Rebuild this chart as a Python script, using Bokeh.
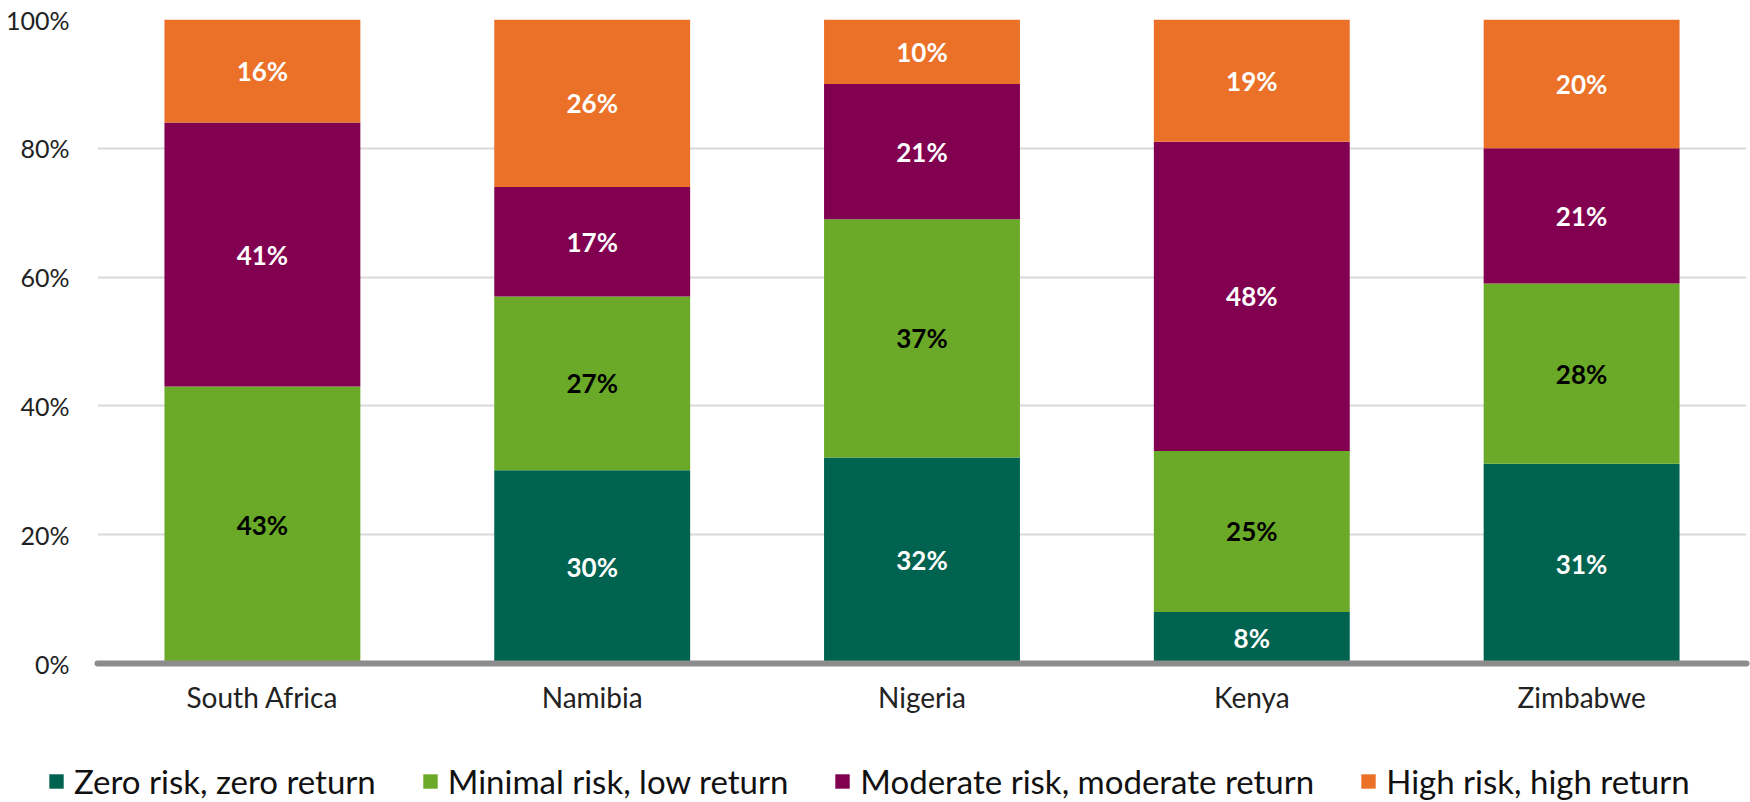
from bokeh.plotting import figure
from bokeh.layouts import column, row
from bokeh.models import ColumnDataSource, FactorRange, Legend, LegendItem, FixedTicker, PrintfTickFormatter
from bokeh.core.properties import value
from bokeh.embed import file_html
from bokeh.resources import INLINE

countries = ["South Africa", "Namibia", "Nigeria", "Kenya", "Zimbabwe"]
series_names = ["Zero risk, zero return", "Minimal risk, low return",
                "Moderate risk, moderate return", "High risk, high return"]
zero_risk = [0, 30, 32, 8, 31]
minimal_risk = [43, 27, 37, 25, 28]
moderate_risk = [41, 17, 21, 48, 21]
high_risk = [16, 26, 10, 19, 20]
y_ticks = [0, 20, 40, 60, 80, 100]

colors = ["#006350", "#6AAA28", "#820050", "#EB7128"]
label_colors = ["white", "black", "white", "white"]
keys = ["zero", "minimal", "moderate", "high"]
series = [zero_risk, minimal_risk, moderate_risk, high_risk]

FONT = "Lato"

data = {"country": countries}
for k, s in zip(keys, series):
    data[k] = s
source = ColumnDataSource(data)

p = figure(x_range=FactorRange(*countries), y_range=(0, 100),
           frame_width=1649, frame_height=644,
           output_backend="svg", toolbar_location=None,
           min_border_left=97, min_border_right=4, min_border_top=19, min_border_bottom=72)
p.outline_line_color = None
p.background_fill_color = "white"
p.border_fill_color = "white"

renderers = p.vbar_stack(keys, x="country", width=0.594, source=source,
                         color=colors, line_color=None)

# segment labels
lx, ly, lt, lc = [], [], [], []
for i, c in enumerate(countries):
    base = 0
    for s, col in zip(series, label_colors):
        v = s[i]
        if v > 0:
            lx.append(c)
            ly.append(base + v / 2)
            lt.append(f"{v}%")
            lc.append(col)
        base += v
lsrc = ColumnDataSource(dict(x=lx, y=ly, text=lt, color=lc))
p.text(x="x", y="y", text="text", source=lsrc, text_color="color",
       text_align="center", text_baseline="middle",
       text_font=value(FONT), text_font_style="bold", text_font_size="26px")

# axes
p.yaxis.ticker = FixedTicker(ticks=y_ticks)
p.yaxis.formatter = PrintfTickFormatter(format="%d%%")
p.yaxis.axis_line_color = None
p.yaxis.major_tick_line_color = None
p.yaxis.minor_tick_line_color = None
p.yaxis.major_label_standoff = 22
p.yaxis.major_label_text_font = FONT
p.yaxis.major_label_text_font_size = "25px"
p.yaxis.major_label_text_color = "#222222"

p.xaxis.axis_line_color = "#8C8C8C"
p.xaxis.axis_line_width = 6
p.xaxis.axis_line_cap = "round"
p.xaxis.major_tick_line_color = None
p.xaxis.minor_tick_line_color = None
p.xaxis.major_label_standoff = 10
p.xaxis.major_label_text_font = FONT
p.xaxis.major_label_text_font_size = "28px"
p.xaxis.major_label_text_color = "#222222"

p.xgrid.grid_line_color = None
p.ygrid.grid_line_color = "#D9D9D9"
p.ygrid.grid_line_width = 2

# legend strip below the chart (its bars fall outside its view; only the legend shows)
pl = figure(width=1750, height=67, x_range=FactorRange(*countries), y_range=(1000, 1001),
            output_backend="svg", toolbar_location=None,
            min_border_left=0, min_border_right=0, min_border_top=0, min_border_bottom=0)
pl.outline_line_color = None
pl.axis.visible = False
pl.grid.grid_line_color = None
legend_renderers = pl.vbar_stack(keys, x="country", width=0.594, source=source,
                                 color=colors, line_color=None)
items = [LegendItem(label=n, renderers=[r]) for n, r in zip(series_names, legend_renderers)]
legend = Legend(items=items, orientation="horizontal", location=(47, 1),
                label_text_font=FONT, label_text_font_size="33px",
                label_text_color="#111111",
                glyph_width=18, glyph_height=18, label_standoff=9, spacing=45,
                border_line_color=None, background_fill_alpha=0,
                margin=0, padding=0)
pl.add_layout(legend, "center")

layout = column(p, row(pl), spacing=0)
open("out.html", "w").write(file_html(layout, INLINE))
